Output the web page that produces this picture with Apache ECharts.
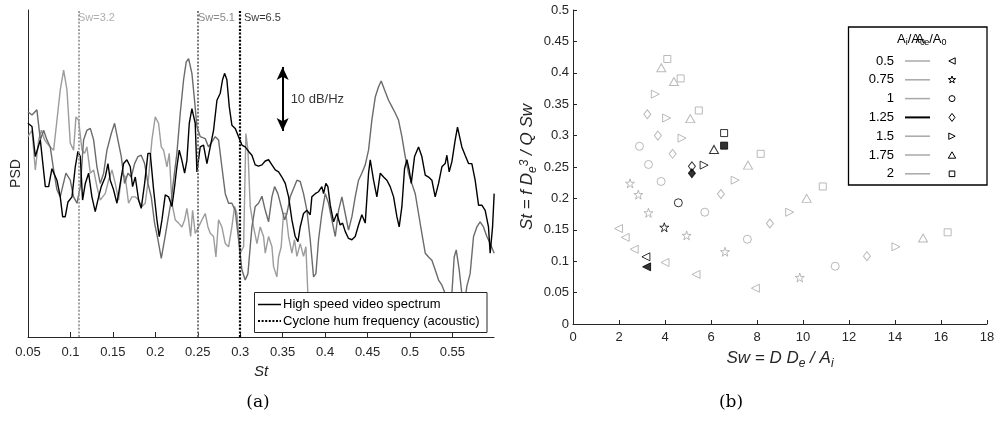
<!DOCTYPE html>
<html><head><meta charset="utf-8">
<script src="https://cdn.jsdelivr.net/npm/echarts@6/dist/echarts.min.js"></script>
<style>html,body{margin:0;padding:0;background:#fff}#c{width:994px;height:426px}</style>
</head><body><div id="c"></div>
<script>
// ---------- panel (a): spectra ----------
const stTicks = [0.05,0.1,0.15,0.2,0.25,0.3,0.35,0.4,0.45,0.5,0.55];
const stBlack = [0.0499,0.0547,0.0586,0.0645,0.0704,0.0743,0.0782,0.0841,0.088,0.0908,0.0939,0.0971,0.1018,0.1057,0.1088,0.1116,0.1143,0.1175,0.1214,0.1253,0.1292,0.1332,0.1363,0.141,0.1442,0.1469,0.1508,0.1548,0.1587,0.1626,0.1665,0.1705,0.1732,0.1764,0.1803,0.1834,0.1874,0.1913,0.194,0.198,0.2019,0.2046,0.2078,0.2117,0.2156,0.2196,0.2227,0.2254,0.2282,0.2313,0.2345,0.2372,0.24,0.2431,0.247,0.249,0.2529,0.2568,0.2608,0.2647,0.2686,0.2726,0.2765,0.2792,0.2816,0.2843,0.2871,0.2902,0.2941,0.2981,0.302,0.3059,0.3099,0.3138,0.3177,0.3216,0.3256,
0.3295,0.3334,0.3374,0.3413,0.3452,0.3491,0.3531,0.357,0.3609,0.3648,0.368,0.3707,0.3746,0.3786,0.3825,0.3844,0.3884,0.3923,0.3962,0.3982,0.4009,0.4033,0.4061,0.41,0.4139,0.4178,0.4206,0.4237,0.4276,0.4316,0.4355,0.4394,0.4433,0.4473,0.4512,0.4532,0.4571,0.461,0.465,0.4689,0.4728,0.4767,0.4807,0.4846,0.4873,0.4905,0.4936,0.4964,0.4991,0.5015,0.5054,0.5101,0.514,0.518,0.5219,0.5258,0.5297,0.5337,0.5376,0.5415,0.5435,0.5462,0.5494,0.5533,0.556,0.558,0.5611,0.565,0.569,0.5729,0.5768,0.5808,0.5847,0.5886,0.5925,0.5945,0.5973,0.5992];
const psdBlack = [33.4,32.9,28.2,30.8,23.5,23.5,26.3,24.5,21.9,18.8,18.8,21.1,21.9,26.6,29.0,28.2,21.4,24.0,25.6,21.9,19.6,21.9,23.5,25.0,27.1,24.5,23.0,20.9,24.0,27.1,27.7,26.6,23.5,25.0,21.4,20.1,24.0,28.7,28.7,23.0,18.3,15.7,18.3,22.2,21.9,20.4,23.5,26.6,29.2,27.6,25.6,27.6,33.4,35.7,33.4,25.8,29.7,30.0,27.1,29.7,32.3,37.0,38.1,40.2,41.2,40.2,36.0,33.1,32.6,31.3,30.0,29.7,29.0,28.4,26.9,26.7,26.9,
27.5,27.7,26.9,26.1,25.8,25.0,24.0,21.9,18.3,15.7,14.9,17.2,19.3,19.8,19.1,21.9,22.4,22.7,23.5,22.4,24.0,23.5,20.6,18.0,19.3,17.5,17.8,16.5,15.4,15.2,15.7,17.5,19.1,17.8,25.6,27.7,24.5,21.9,25.6,25.0,24.5,23.5,21.9,18.8,17.2,20.4,26.3,27.7,26.1,24.0,28.2,29.7,28.2,25.3,25.0,24.5,21.9,24.0,26.6,27.1,28.4,25.8,27.4,30.8,32.8,32.8,29.7,28.4,27.1,27.1,24.5,20.6,20.6,19.8,17.2,13.1,17.2,22.4];
const stDark = [0.0499,0.0547,0.0605,0.0645,0.0684,0.0723,0.0762,0.0802,0.0841,0.088,0.0908,0.0947,0.0998,0.1037,0.1077,0.1116,0.1155,0.1194,0.1234,0.1273,0.1312,0.1351,0.1391,0.143,0.1481,0.152,0.1559,0.1599,0.1638,0.1677,0.1717,0.1756,0.1795,0.1834,0.1874,0.1913,0.1952,0.1991,0.2031,0.207,0.2109,0.2148,0.2188,0.2215,0.2254,0.2294,0.2333,0.2364,0.2392,0.2431,0.2462,0.249,0.2529,0.2588,0.2627,0.2667,0.2706,0.2745,0.2784,0.2824,0.2863,0.2902,0.2941,0.2981,0.302,0.3059,0.3091,0.3138,0.3177,0.3216,0.3256,
0.3295,0.3334,0.3374,0.3405,0.3444,0.3483,0.3523,0.355,0.3589,0.3629,0.3668,0.3707,0.3746,0.3786,0.3825,0.3864,0.3892,0.3923,0.3962,0.4002,0.4041,0.408,0.412,0.4159,0.4198,0.4237,0.4276,0.4316,0.4355,0.4394,0.4433,0.4473,0.4512,0.4551,0.4591,0.463,0.4661,0.4701,0.4748,0.4787,0.4826,0.4865,0.4905,0.4944,0.4983,0.5022,0.5062,0.5101,0.514,0.518,0.5219,0.5258,0.5297,0.5337,0.5376,0.5415,0.5455,0.5494,0.5521,0.5545,0.558,0.5611,0.5643,0.567,0.5709,0.5749,0.5788,0.5827,0.5866,0.5906,0.5945,0.5992];
const psdDark = [35.2,34.7,35.5,30.8,32.3,30.8,29.7,26.1,23.0,21.9,23.5,25.6,24.5,21.9,20.9,23.5,30.8,32.3,32.6,30.8,26.6,24.0,25.6,29.2,31.8,33.4,30.8,28.2,24.0,25.6,25.0,27.1,28.2,28.4,27.1,24.0,21.9,17.8,15.2,12.3,15.2,18.3,21.4,24.5,28.7,35.0,40.2,43.0,43.5,41.2,37.0,32.9,31.3,31.0,29.7,30.5,31.3,30.8,26.6,22.4,20.9,20.9,19.8,15.2,10.5,8.9,9.9,17.2,20.4,20.9,22.0,
19.8,18.0,21.9,23.5,22.4,20.4,18.3,19.3,21.9,23.2,24.5,24.3,22.4,19.8,15.2,9.4,9.9,15.2,19.3,22.4,20.9,18.3,15.7,19.8,21.9,19.3,16.7,18.8,21.9,24.5,25.6,26.9,29.2,33.9,37.5,39.1,40.0,38.6,37.0,36.0,35.0,33.9,31.3,28.2,25.6,24.0,22.4,19.3,16.2,13.1,12.5,12.0,10.5,8.9,8.1,6.8,5.3,6.8,12.5,13.6,10.5,6.8,5.3,7.9,9.9,15.7,17.2,18.0,17.2,15.7,14.6,13.1];
const stLight = [0.0499,0.0547,0.0586,0.0625,0.0657,0.0696,0.0723,0.0762,0.0802,0.0841,0.088,0.092,0.0959,0.0998,0.1037,0.1065,0.1096,0.1136,0.1167,0.1194,0.1234,0.1273,0.1312,0.1351,0.1379,0.141,0.1449,0.1489,0.1528,0.1567,0.1607,0.1646,0.1685,0.1724,0.1764,0.1803,0.1842,0.1881,0.1921,0.196,0.1999,0.2038,0.207,0.2097,0.2137,0.2164,0.2196,0.2235,0.2274,0.2313,0.2345,0.2372,0.2392,0.2416,0.2439,0.247,0.251,0.2549,0.2588,0.262,0.2647,0.2686,0.2714,0.2745,0.2784,0.2824,0.2863,0.2902,0.2934,0.2961,0.3,0.304,0.3067,0.3091,0.3118,0.3157,0.3197,0.3236,0.3275,
0.3295,0.3334,0.3374,0.3393,0.3432,0.3452,0.3483,0.351,0.3538,0.357,0.3609,0.364,0.3668,0.3707,0.3746,0.3774,0.3797,0.3825,0.40,0.44,0.48,0.52,0.56];
const psdLight = [31.3,32.3,26.1,30.8,32.3,30.8,30.3,29.7,29.2,33.9,38.6,41.7,38.6,30.3,29.2,34.4,33.9,29.2,28.7,29.7,25.6,26.1,23.5,21.4,21.9,22.4,24.5,26.1,24.0,21.4,25.6,25.0,20.9,21.9,21.9,21.4,20.4,20.9,25.0,30.8,34.4,33.4,29.7,29.2,26.6,28.7,20.9,18.3,17.8,17.2,18.3,20.1,18.3,15.7,19.8,16.2,17.2,18.3,19.3,17.2,16.2,15.7,12.5,18.3,17.2,14.6,14.1,17.2,20.4,19.3,13.1,14.1,31.8,29.2,20.4,17.2,14.6,17.2,15.7,
13.1,15.7,14.1,11.0,9.4,12.5,14.1,19.3,19.3,15.7,13.1,15.2,12.6,14.6,12.6,14.1,6.8,3.7,3.0,4.0,3.2,4.2,3.5];
const humSt = [0.1065, 0.2479, 0.302];
const humLabels = ['Sw=3.2', 'Sw=5.1', 'Sw=6.5'];
const humColors = ['#9a9a9a', '#6b6b6b', '#000000'];
const scaleBar = {st: 0.35, from: 32.2, to: 42.2, label: '10 dB/Hz'};

// ---------- panel (b): St vs Sw ----------
const ratios = ['0.5', '0.75', '1', '1.25', '1.5', '1.75', '2'];
const swGrey = [
  [1.98, 2.27, 2.66, 4.0, 5.35, 7.93],
  [2.48, 2.84, 3.28, 4.94, 6.61, 9.86],
  [2.89, 3.28, 3.83, 5.73, 7.58, 11.4],
  [3.23, 3.69, 4.33, 6.43, 8.56, 12.78],
  [3.58, 4.07, 4.74, 7.05, 9.42, 14.04],
  [3.84, 4.39, 5.10, 7.61, 10.16, 15.22],
  [4.10, 4.68, 5.47, 8.16, 10.86, 16.29]
];
const stGrey = [
  [0.152, 0.138, 0.119, 0.098, 0.079, 0.057],
  [0.224, 0.206, 0.177, 0.141, 0.115, 0.074],
  [0.283, 0.254, 0.227, 0.178, 0.135, 0.092],
  [0.334, 0.300, 0.271, 0.207, 0.160, 0.108],
  [0.366, 0.328, 0.296, 0.229, 0.178, 0.123],
  [0.408, 0.386, 0.327, 0.253, 0.200, 0.137],
  [0.422, 0.391, 0.340, 0.271, 0.219, 0.146]
];
const swBlackPt = [3.17, 3.97, 4.58, 5.17, 5.70, 6.13, 6.57];
const stBlackPt = [0.107, 0.154, 0.193, 0.251, 0.253, 0.278, 0.304];
const filledIdx = [0, 3, 6];
const swFilled = [3.2, 5.17, 6.57];
const stFilled = [0.091, 0.240, 0.284];

const GREY = '#a8a8a8';
const AX = '#262626';
const FONT = '"Liberation Sans", Arial, Helvetica, sans-serif';
const STAR = 'path://M50,0 L61.8,35.1 98.6,35.1 68.8,56.8 80.2,91.9 50,70.2 19.8,91.9 31.2,56.8 1.4,35.1 38.2,35.1 Z';
const shapes = [
  {symbol: 'triangle', rotate: 90, size: [8, 8]},
  {symbol: STAR, rotate: 0, size: [9, 9]},
  {symbol: 'circle', rotate: 0, size: 8},
  {symbol: 'diamond', rotate: 0, size: [7, 9]},
  {symbol: 'triangle', rotate: -90, size: [8, 8]},
  {symbol: 'triangle', rotate: 0, size: [9, 8]},
  {symbol: 'rect', rotate: 0, size: 7}
];

const zip = (a, b) => a.slice(0, Math.min(a.length, b.length)).map((v, i) => [v, b[i]]);

const chart = echarts.init(document.getElementById('c'), null, {renderer: 'canvas'});

const series = [
  {type: 'line', name: 'light', xAxisIndex: 0, yAxisIndex: 0, data: zip(stLight, psdLight), showSymbol: false, symbol: 'none',
   lineStyle: {color: '#9c9c9c', width: 1.4}, z: 2},
  {type: 'line', name: 'dark', xAxisIndex: 0, yAxisIndex: 0, data: zip(stDark, psdDark), showSymbol: false, symbol: 'none',
   lineStyle: {color: '#6b6b6b', width: 1.4}, z: 3},
  {type: 'line', name: 'black', xAxisIndex: 0, yAxisIndex: 0, data: zip(stBlack, psdBlack), showSymbol: false, symbol: 'none',
   lineStyle: {color: '#000', width: 1.4}, z: 4,
   markLine: {
     silent: true, symbol: ['none', 'none'], label: {show: false}, animation: false,
     data: humSt.map((s, i) => ({xAxis: s, lineStyle: {color: humColors[i], type: [2, 1.6], width: i === 2 ? 2.2 : 1.8}}))
       .concat([[{coord: [scaleBar.st, scaleBar.from], symbol: 'arrow', symbolSize: [9, 13]},
                 {coord: [scaleBar.st, scaleBar.to], symbol: 'arrow', symbolSize: [9, 13]}]].map(p => {
         p[0].lineStyle = {color: '#000', width: 2, type: 'solid'}; return p; }))
   }},
  {type: 'scatter', xAxisIndex: 0, yAxisIndex: 0, symbolSize: 0, silent: true, z: 5,
   data: humSt.map((s, i) => ({value: [s, 49.8], name: humLabels[i],
     label: {show: true, position: 'right', distance: 2, formatter: '{b}', color: humColors[i], fontSize: 11, fontFamily: FONT}}))
     .concat([{value: [scaleBar.st, (scaleBar.from + scaleBar.to) / 2], name: scaleBar.label,
       label: {show: true, position: 'right', distance: 8, formatter: '{b}', color: '#000', fontSize: 13, fontFamily: FONT}}])}
];

shapes.forEach((sh, i) => {
  const data = swGrey[i].map((x, j) => ({value: [x, stGrey[i][j]], itemStyle: {borderColor: GREY}}));
  data.push({value: [swBlackPt[i], stBlackPt[i]], itemStyle: {borderColor: '#000'}});
  const f = filledIdx.indexOf(i);
  if (f >= 0) data.push({value: [swFilled[f], stFilled[f]], itemStyle: {borderColor: '#000', color: '#000'}});
  series.push({type: 'scatter', name: ratios[i], xAxisIndex: 1, yAxisIndex: 1, symbol: sh.symbol, symbolRotate: sh.rotate,
    symbolSize: sh.size, itemStyle: {color: 'rgba(0,0,0,0)', borderWidth: 1}, data: data, z: 3});
});

// legend graphics (panel b)
function markerEl(k, cx, cy, color) {
  const s = 3.2, st = {fill: 'none', stroke: color, lineWidth: 1};
  if (k === 0) return {type: 'polygon', shape: {points: [[cx + s, cy - s], [cx + s, cy + s], [cx - s, cy]]}, style: st};
  if (k === 1) { const pts = []; for (let j = 0; j < 10; j++) { const a = -Math.PI / 2 + j * Math.PI / 5, r = j % 2 ? 1.5 : 3.8; pts.push([cx + r * Math.cos(a), cy + r * Math.sin(a)]); } return {type: 'polygon', shape: {points: pts}, style: st}; }
  if (k === 2) return {type: 'circle', shape: {cx: cx, cy: cy, r: 3}, style: st};
  if (k === 3) return {type: 'polygon', shape: {points: [[cx, cy - 4], [cx + 3, cy], [cx, cy + 4], [cx - 3, cy]]}, style: st};
  if (k === 4) return {type: 'polygon', shape: {points: [[cx - s, cy - s], [cx - s, cy + s], [cx + s, cy]]}, style: st};
  if (k === 5) return {type: 'polygon', shape: {points: [[cx - s - 0.5, cy + s], [cx + s + 0.5, cy + s], [cx, cy - s]]}, style: st};
  return {type: 'rect', shape: {x: cx - 2.8, y: cy - 2.8, width: 5.6, height: 5.6}, style: st};
}
const subRich = {
  n: {fontSize: 13, fontFamily: FONT, color: '#000', lineHeight: 14, verticalAlign: 'top'},
  s: {fontSize: 9, fontFamily: FONT, color: '#000', lineHeight: 9, padding: [6, 0, 0, 0], verticalAlign: 'bottom'}
};
const gfx = [
  {type: 'rect', shape: {x: 848.5, y: 27, width: 138.5, height: 158}, style: {fill: '#fff', stroke: '#000', lineWidth: 1.3}, z: 100},
  {type: 'text', x: 897, y: 40, style: {text: '{n|A}{s|i}{n|/A}{s|0}', rich: subRich, verticalAlign: 'middle', align: 'left'}, z: 101},
  {type: 'text', x: 915.5, y: 40, style: {text: '{n|A}{s|e}{n|/A}{s|0}', rich: subRich, verticalAlign: 'middle', align: 'left'}, z: 101}
];
ratios.forEach((r, i) => {
  const y = 61 + i * 18.8;
  gfx.push({type: 'text', x: 894, y: y, style: {text: r, fontSize: 13, fontFamily: FONT, fill: '#000', align: 'right', verticalAlign: 'middle'}, z: 101});
  gfx.push({type: 'line', shape: {x1: 905, y1: y, x2: 930, y2: y}, style: {stroke: i === 3 ? '#000' : GREY, lineWidth: i === 3 ? 2 : 1.5}, z: 101});
  const m = markerEl(i, 952, y, '#000'); m.z = 101; gfx.push(m);
});
// legend graphics (panel a)
gfx.push({type: 'rect', shape: {x: 254.5, y: 292.5, width: 232.5, height: 40}, style: {fill: '#fff', stroke: AX, lineWidth: 1}, z: 100});
gfx.push({type: 'line', shape: {x1: 258, y1: 304.5, x2: 281, y2: 304.5}, style: {stroke: '#000', lineWidth: 1.5}, z: 101});
gfx.push({type: 'line', shape: {x1: 258, y1: 321, x2: 281, y2: 321}, style: {stroke: '#000', lineWidth: 2, lineDash: [2, 1.6]}, z: 101});
gfx.push({type: 'text', x: 283, y: 304.5, style: {text: 'High speed video spectrum', fontSize: 13, fontFamily: FONT, fill: '#000', verticalAlign: 'middle'}, z: 101});
gfx.push({type: 'text', x: 283, y: 321, style: {text: 'Cyclone hum frequency (acoustic)', fontSize: 13, fontFamily: FONT, fill: '#000', verticalAlign: 'middle'}, z: 101});
gfx.push({type: 'text', x: 258, y: 403, style: {text: '(a)', fontSize: 17, fontFamily: '"DejaVu Serif", serif', fill: '#000', align: 'center', verticalAlign: 'middle'}, z: 101});
gfx.push({type: 'text', x: 731, y: 403, style: {text: '(b)', fontSize: 17, fontFamily: '"DejaVu Serif", serif', fill: '#000', align: 'center', verticalAlign: 'middle'}, z: 101});

const axisCommon = {
  axisLine: {show: true, lineStyle: {color: AX, width: 1}},
  axisTick: {show: true, inside: true, length: 4, lineStyle: {color: AX}},
  axisLabel: {color: AX, fontSize: 13, fontFamily: FONT},
  splitLine: {show: false}
};
const nameRich = {
  i: {fontSize: 17, fontFamily: FONT, fontStyle: 'italic', color: AX, lineHeight: 20, verticalAlign: 'top'},
  sub: {fontSize: 12, fontFamily: FONT, fontStyle: 'italic', color: AX, lineHeight: 12, padding: [9, 0, 0, 0], verticalAlign: 'bottom'},
  sup: {fontSize: 12, fontFamily: FONT, fontStyle: 'italic', color: AX, lineHeight: 12, padding: [0, 0, 9, 0], verticalAlign: 'top'}
};

chart.setOption({
  animation: false,
  backgroundColor: '#fff',
  grid: [
    {left: 28, top: 10, width: 466, height: 327, outerBoundsMode: 'none'},
    {left: 573, top: 10, width: 414, height: 314, outerBoundsMode: 'none'}
  ],
  xAxis: [
    Object.assign({}, axisCommon, {type: 'value', gridIndex: 0, min: 0.05, max: 0.599,
      axisTick: {show: true, inside: true, length: 5, lineStyle: {color: AX}, customValues: stTicks},
      axisLabel: {color: AX, fontSize: 13, fontFamily: FONT, margin: 9, customValues: stTicks},
      name: 'St', nameLocation: 'middle', nameGap: 23, nameTextStyle: {fontSize: 15, fontStyle: 'italic', fontFamily: FONT, color: AX}}),
    Object.assign({}, axisCommon, {type: 'value', gridIndex: 1, min: 0, max: 18, interval: 2,
      axisLabel: {color: AX, fontSize: 13, fontFamily: FONT, margin: 7},
      name: '{i|Sw = D D}{sub|e}{i| / A}{sub|i}', nameLocation: 'middle', nameGap: 24, nameTextStyle: {rich: nameRich}})
  ],
  yAxis: [
    {type: 'value', gridIndex: 0, min: 0, max: 51.1, axisLine: {show: true, lineStyle: {color: AX}}, axisTick: {show: false},
     axisLabel: {show: false}, splitLine: {show: false},
     name: 'PSD', nameLocation: 'middle', nameGap: 5, nameTextStyle: {fontSize: 14, fontFamily: FONT, color: AX}},
    Object.assign({}, axisCommon, {type: 'value', gridIndex: 1, min: 0, max: 0.5, interval: 0.05,
      axisLabel: {color: AX, fontSize: 13, fontFamily: FONT, margin: 4},
      name: '{i|St = f D}{sub|e}{sup|3}{i| / Q Sw}', nameLocation: 'middle', nameGap: 29, nameTextStyle: {rich: nameRich}})
  ],
  series: series,
  graphic: {elements: gfx}
});
</script>
</body></html>
